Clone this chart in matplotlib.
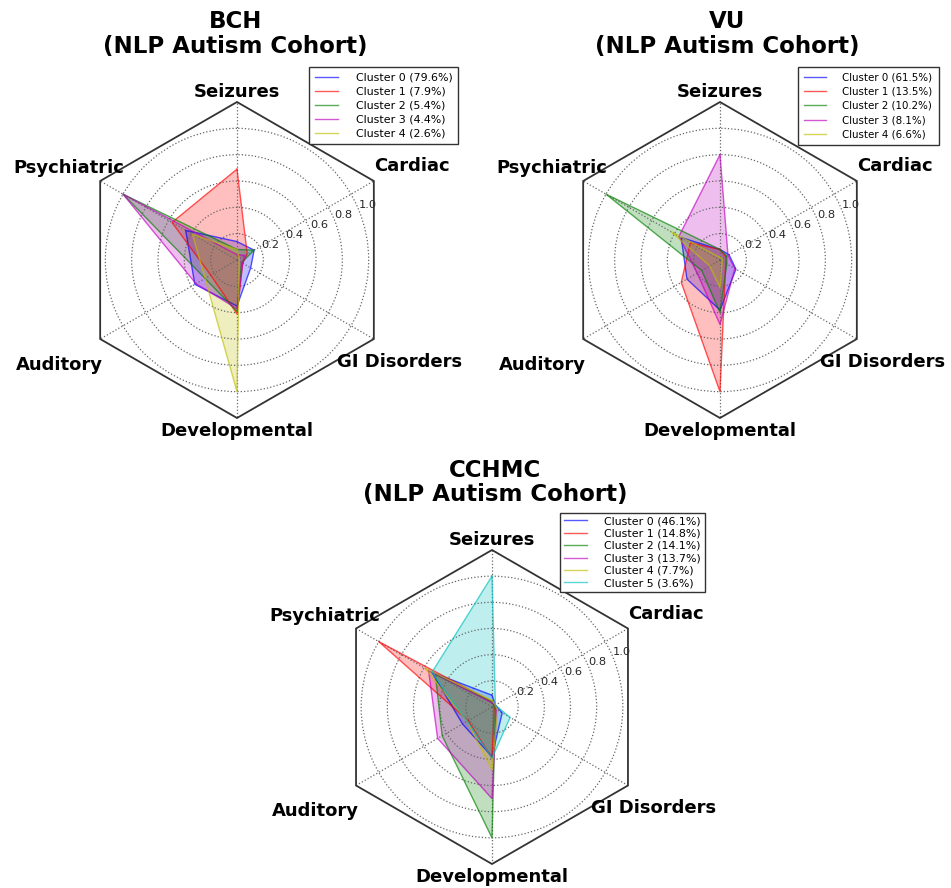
import numpy as np
import matplotlib
matplotlib.use("Agg")
import matplotlib.pyplot as plt
from matplotlib.patches import RegularPolygon
from matplotlib.path import Path
from matplotlib.projections.polar import PolarAxes
from matplotlib.projections import register_projection
from matplotlib.spines import Spine
from matplotlib.transforms import Affine2D

# spokes, counter-clockwise from the top
spokes = ["Seizures", "Psychiatric", "Auditory", "Developmental", "GI Disorders", "Cardiac"]

bch_labels = ["Cluster 0 (79.6%)", "Cluster 1 (7.9%)", "Cluster 2 (5.4%)",
              "Cluster 3 (4.4%)", "Cluster 4 (2.6%)"]
bch_c0 = [0.14, 0.45, 0.37, 0.35, 0.12, 0.15]
bch_c1 = [0.69, 0.57, 0.23, 0.41, 0.05, 0.09]
bch_c2 = [0.08, 1.00, 0.28, 0.39, 0.04, 0.15]
bch_c3 = [0.04, 1.00, 0.36, 0.37, 0.05, 0.07]
bch_c4 = [0.08, 0.39, 0.28, 1.00, 0.02, 0.02]

vu_labels = ["Cluster 0 (61.5%)", "Cluster 1 (13.5%)", "Cluster 2 (10.2%)",
             "Cluster 3 (8.1%)", "Cluster 4 (6.6%)"]
vu_c0 = [0.08, 0.34, 0.29, 0.38, 0.14, 0.08]
vu_c1 = [0.08, 0.26, 0.34, 1.00, 0.05, 0.05]
vu_c2 = [0.08, 1.00, 0.16, 0.40, 0.06, 0.06]
vu_c3 = [0.80, 0.36, 0.20, 0.49, 0.13, 0.07]
vu_c4 = [0.02, 0.43, 0.09, 0.21, 0.02, 0.02]

cchmc_labels = ["Cluster 0 (46.1%)", "Cluster 1 (14.8%)", "Cluster 2 (14.1%)",
                "Cluster 3 (13.7%)", "Cluster 4 (7.7%)", "Cluster 5 (3.6%)"]
cchmc_c0 = [0.09, 0.53, 0.26, 0.38, 0.09, 0.03]
cchmc_c1 = [0.04, 1.00, 0.21, 0.39, 0.02, 0.02]
cchmc_c2 = [0.04, 0.50, 0.44, 1.00, 0.03, 0.02]
cchmc_c3 = [0.03, 0.56, 0.48, 0.70, 0.04, 0.03]
cchmc_c4 = [0.05, 0.59, 0.22, 0.48, 0.05, 0.03]
cchmc_c5 = [1.00, 0.53, 0.22, 0.39, 0.16, 0.03]

colors = [(0, 0, 1), (1, 0, 0), (0, 0.5, 0), (0.75, 0, 0.75), (0.75, 0.75, 0), (0, 0.75, 0.75)]

N = len(spokes)
theta = np.linspace(0, 2 * np.pi, N, endpoint=False)


class RadarAxes(PolarAxes):
    name = "radar"

    def __init__(self, *args, **kwargs):
        super().__init__(*args, **kwargs)
        self.set_theta_zero_location("N")

    def fill(self, *args, closed=True, **kwargs):
        return super().fill(closed=closed, *args, **kwargs)

    def plot(self, *args, **kwargs):
        lines = super().plot(*args, **kwargs)
        for line in lines:
            x, y = line.get_data()
            if x[0] != x[-1]:
                line.set_data(np.append(x, x[0]), np.append(y, y[0]))
        return lines

    def _gen_axes_patch(self):
        return RegularPolygon((0.5, 0.5), N, radius=0.5, edgecolor="k")

    def _gen_axes_spines(self):
        spine = Spine(axes=self, spine_type="circle", path=Path.unit_regular_polygon(N))
        spine.set_transform(Affine2D().scale(0.5).translate(0.5, 0.5) + self.transAxes)
        return {"polar": spine}


register_projection(RadarAxes)

# label centres in axes fraction
label_pos = [(0.5, 1.032), (-0.032, 0.790), (-0.061, 0.169),
             (0.5, -0.041), (1.013, 0.178), (1.054, 0.796)]


def radar(rect, title, series, labels, leg_anchor, leg_fs, leg_ls, leg_bp, title_x=0.5):
    ax = fig.add_axes(rect, projection="radar")
    handles = []
    for d, c in zip(series, colors):
        ln, = ax.plot(theta, d, color=c, lw=1.0, alpha=0.65)
        ax.fill(theta, d, facecolor=c, alpha=0.25)
        handles.append(ln)
    ax.set_ylim(0, 1.2)
    ax.set_xticks(theta, [""] * N)
    # radius labels 22.5 deg above the right-hand horizontal
    ax.set_rgrids([0.2, 0.4, 0.6, 0.8, 1.0], angle=292.5, fontsize=8.2, color="0.15")
    ax.grid(True, color="0.4", linestyle=":", linewidth=0.9)
    ax.spines["polar"].set_color("0.2")
    ax.spines["polar"].set_linewidth(1.3)
    for (x, y), s in zip(label_pos, spokes):
        ax.text(x, y, s, transform=ax.transAxes, ha="center", va="center",
                fontsize=13, fontweight="bold", clip_on=False)
    ax.text(title_x, 1.215, title, transform=ax.transAxes, ha="center", va="center",
            fontsize=16.5, fontweight="bold", linespacing=1.1)
    leg = ax.legend(handles, labels, loc="upper left", bbox_to_anchor=leg_anchor,
                    borderaxespad=0, fontsize=leg_fs, fancybox=False, framealpha=1,
                    edgecolor="0.2", handlelength=2.1, handletextpad=1.6,
                    labelspacing=leg_ls, borderpad=leg_bp)
    leg.get_frame().set_linewidth(1.0)
    return ax


fig = plt.figure(figsize=(9.51, 8.88), dpi=100)

radar([79 / 951, 470 / 888, 316 / 951, 316 / 888], "BCH\n(NLP Autism Cohort)",
      [bch_c0, bch_c1, bch_c2, bch_c3, bch_c4], bch_labels, (0.728, 1.112),
      7.9, 0.36, 0.55, title_x=0.494)
radar([562 / 951, 470 / 888, 316 / 951, 316 / 888], "VU\n(NLP Autism Cohort)",
      [vu_c0, vu_c1, vu_c2, vu_c3, vu_c4], vu_labels, (0.747, 1.112),
      7.4, 0.4, 0.6, title_x=0.522)
radar([335 / 951, 24 / 888, 314 / 951, 314 / 888], "CCHMC\n(NLP Autism Cohort)",
      [cchmc_c0, cchmc_c1, cchmc_c2, cchmc_c3, cchmc_c4, cchmc_c5], cchmc_labels,
      (0.717, 1.119), 7.9, 0.22, 0.32, title_x=0.51)

fig.savefig("out.png", dpi=100)
